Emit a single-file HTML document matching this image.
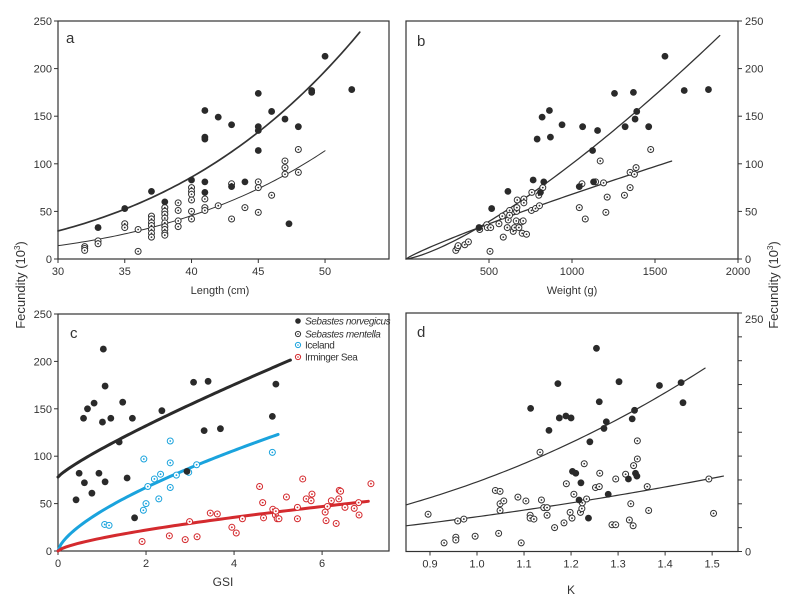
<!DOCTYPE html>
<html><head><meta charset="utf-8"><style>
html,body{margin:0;padding:0;background:#fff;}
svg{display:block;font-family:"Liberation Sans",Arial,sans-serif;}
.t{font-size:11px;fill:#333;}
</style></head><body>
<svg id="fig" width="796" height="599" viewBox="0 0 796 599" xmlns="http://www.w3.org/2000/svg">
<text class="t" style="font-size:13px" transform="translate(25,285) rotate(-90)" text-anchor="middle">Fecundity (10<tspan dy="-5" style="font-size:8px">3</tspan><tspan dy="5">)</tspan></text>
<text class="t" style="font-size:13px" transform="translate(778,285) rotate(-90)" text-anchor="middle">Fecundity (10<tspan dy="-5" style="font-size:8px">3</tspan><tspan dy="5">)</tspan></text>
<text class="t" x="220" y="294" text-anchor="middle">Length (cm)</text>
<text class="t" x="572" y="294" text-anchor="middle">Weight (g)</text>
<text class="t" style="font-size:12px" x="223" y="586" text-anchor="middle">GSI</text>
<text class="t" style="font-size:12px" x="571" y="594" text-anchor="middle">K</text>
</svg>
<script>
// ---------- data ----------
const aNorvX=[33,35,37,38,40,41,41,41,41,41,42,43,43,44,45,45,45,45,46,47,47.3,48,49,49,50,52];
const aNorvY=[33,53,71,60,83,156,128,126,81,70,149,141,76,81,174,139,135,114,155,147,37,139,177,175,213,178];
const aMentX=[32,32,32,33,33,35,35,36,36,37,37,37,37,37,37,37,38,38,38,38,38,38,38,38,38,39,39,39,39,40,40,40,40,40,40,41,41,41,42,43,43,44,45,45,45,46,47,47,47,48,48];
const aMentY=[13,11,9,19,16,37,33,31,8,45,42,38,35,31,27,23,54,50,47,43,38,34,31,27,25,59,51,40,34,75,71,68,62,50,42,63,54,51,56,79,42,54,81,75,49,67,103,96,89,115,91];
const bNorvX=[440,516,614,766,790,810,820,830,864,870,940,1044,1064,1124,1130,1154,1256,1320,1370,1380,1390,1462,1560,1676,1822];
const bNorvY=[33,53,71,83,126,70,149,81,156,128,141,76,139,114,81,135,174,139,175,147,155,139,213,177,178];
const bMentX=[300,310,314,354,376,444,486,490,510,506,560,580,586,610,616,624,624,646,654,664,666,668,670,680,696,706,700,726,710,710,756,758,780,800,804,824,1044,1060,1080,1142,1190,1170,1204,1212,1316,1350,1350,1376,1386,1474];
const bMentY=[9,12,14,15,18,31,36,33,33,8,37,45,23,33,41,51,46,29,33,40,50,54,62,33,39,40,27,26,63,59,51,70,53,67,56,75,54,79,42,81,80,103,49,65,67,91,75,89,96,115];
const cNorvX=[0.41,0.48,0.58,0.6,0.67,0.77,0.82,0.93,1.03,1.01,1.07,1.07,1.2,1.39,1.47,1.57,1.69,1.74,2.36,2.93,3.08,3.32,3.41,3.69,4.87,4.95];
const cNorvY=[54,82,140,72,150,61,156,82,213,136,174,73,140,115,157,77,140,35,148,84,178,127,179,129,142,176];
const cIceX=[1.06,1.16,1.94,2.0,1.95,2.04,2.19,2.29,2.33,2.55,2.55,2.55,2.69,2.97,3.15,4.87];
const cIceY=[28,27,43,50,97,68,76,55,81,116,93,67,80,83,91,104];
const cIrmX=[1.91,2.53,2.89,2.99,3.16,3.46,3.62,3.95,4.05,4.19,4.58,4.65,4.67,4.88,4.94,4.95,4.98,5.02,5.19,5.44,5.44,5.56,5.64,5.75,5.77,6.07,6.09,6.12,6.21,6.32,6.38,6.39,6.42,6.52,6.73,6.83,6.84,7.11];
const cIrmY=[10,16,12,31,15,40,39,25,19,34,68,51,35,44,38,42,34,34,57,46,34,76,55,53,60,41,32,47,53,29,55,64,63,46,45,51,38,71];
const dNorvX=[1.114,1.153,1.172,1.175,1.189,1.2,1.203,1.21,1.217,1.221,1.237,1.24,1.254,1.26,1.27,1.275,1.279,1.302,1.322,1.33,1.335,1.337,1.34,1.388,1.434,1.438];
const dNorvY=[150,127,176,140,142,140,84,82,54,72,35,115,213,157,129,136,60,178,76,139,148,82,79,174,177,156];
const dMentX=[0.896,0.93,0.955,0.955,0.959,0.972,0.996,1.039,1.049,1.046,1.049,1.049,1.057,1.087,1.094,1.104,1.113,1.113,1.121,1.134,1.137,1.142,1.149,1.149,1.165,1.185,1.19,1.198,1.202,1.206,1.22,1.223,1.224,1.233,1.228,1.252,1.26,1.261,1.287,1.295,1.295,1.316,1.324,1.327,1.332,1.333,1.341,1.341,1.362,1.365,1.493,1.503];
const dMentY=[39,9,15,12,32,34,16,64,63,19,50,43,53,57,9,53,38,35,34,104,54,46,46,38,25,30,71,41,35,60,41,45,51,55,92,67,68,82,28,28,76,81,33,50,27,90,97,116,68,43,76,40];
// fitted curves: [a, xref, exponent, offset, xStart, xEnd]  y = offset + a*(x/xref)^exponent
const aNorvFit=[29.5,30,3.72,0,30,52.6];
const aMentFit=[14,30,4.1,0,30,50];
const bNorvFit=[100,1000,1.34,0,0,1890];
const bMentFit=[68,1000,0.88,0,0,1600];
const cNorvFit=[30,1,0.85,78,0,5.28];
const cIceFit=[42.3,1,0.663,0,0,5.0];
const cIrmFit=[13.7,1,0.687,0,0,7.05];
const dNorvFit=[49,0.85,2.45,0,0.849,1.485];
const dMentFit=[27,0.85,1.84,0,0.849,1.524];
const yTicks=[0,50,100,150,200,250];
const aXTicks=[30,35,40,45,50];
const bXTicks=[500,1000,1500,2000];
const cXTicks=[0,2,4,6];
const dXTicks=[0.9,1.0,1.1,1.2,1.3,1.4,1.5];
const dXTickLabels=["0.9","1.0","1.1","1.2","1.3","1.4","1.5"];

// ---------- drawing ----------
const NS="http://www.w3.org/2000/svg";
const svg=document.getElementById('fig');
function mk(tag,attrs,parent){const e=document.createElementNS(NS,tag);for(const k in attrs)e.setAttribute(k,attrs[k]);(parent||svg).appendChild(e);return e;}
function panel(p){
  const g=mk('g',{});
  
  
  const sx=v=>p.x0+(v-p.xd[0])/(p.xd[1]-p.xd[0])*(p.x1-p.x0);
  const sy=v=>p.yb-(v/250)*(p.yb-p.yt);
  p.sx=sx;p.sy=sy;p.g=g;
  const fr=mk('rect',{x:p.x0,y:p.yt,width:p.x1-p.x0,height:p.yb-p.yt,fill:'none',stroke:'#333','stroke-width':1.2},g);
  
  
  p.xt.forEach((v,i)=>{const x=sx(v);
    mk('line',{x1:x,x2:x,y1:p.yb,y2:p.yb+4,stroke:'#333','stroke-width':1},g);
    const t=mk('text',{x:x,y:p.yb+16,'text-anchor':'middle',class:'t'},g);t.textContent=p.xl?p.xl[i]:String(v);
    
    });
  const right=p.right;const ax=right?p.x1:p.x0;const d=right?4:-4;
  const tickVals=p.minor?[0,25,50,75,100,125,150,175,200,225,250]:yTicks;
  tickVals.forEach(v=>{const y=sy(v);mk('line',{x1:ax,x2:ax+d,y1:y,y2:y,stroke:'#333','stroke-width':1},g);});
  yTicks.forEach(v=>{ if(p.ylab && !p.ylab.includes(v)) return;
    let y=sy(v); if(p.id==='d'&&v===250) y+=6;
    const t=mk('text',{x:right?ax+7:ax-6,y:y+4,'text-anchor':right?'start':'end',class:'t'},g);t.textContent=String(v);
    
    });
  const L=mk('text',{x:p.lx,y:p.ly,class:'t',style:'font-size:15px'},g);L.textContent=p.id;
  
  
  return p;
}
function curve(p,f,color,w,name){
  let d='';const n=80;
  for(let i=0;i<=n;i++){const x=f[4]+(f[5]-f[4])*i/n;const y=f[3]+f[0]*Math.pow(Math.max(x,0)/f[1],f[2]);d+=(i?'L':'M')+p.sx(x).toFixed(2)+','+p.sy(y).toFixed(2);}
  const e=mk('path',{d:d,fill:'none',stroke:color,'stroke-width':w,'stroke-linecap':'round'},p.g);
  
  
}
function filled(p,xs,ys,name){xs.forEach((x,i)=>{const c=mk('circle',{cx:p.sx(x),cy:p.sy(ys[i]),r:3.4,fill:'#2a2a2a'},p.g);
  
  });}
function open(p,xs,ys,color,name){xs.forEach((x,i)=>{const g=mk('g',{},p.g);
  
  
  mk('circle',{cx:p.sx(x),cy:p.sy(ys[i]),r:3,fill:'#fff',stroke:color,'stroke-width':1},g);
  mk('circle',{cx:p.sx(x),cy:p.sy(ys[i]),r:0.9,fill:color},g);});}

const A=panel({id:'a',x0:58,x1:389,yt:21,yb:259,xd:[30,54.79],xt:aXTicks,lx:66,ly:43});
curve(A,aNorvFit,'#333',1.7,'fit-norvegicus');curve(A,aMentFit,'#333',1,'fit-mentella');
open(A,aMentX,aMentY,'#333','point-mentella');filled(A,aNorvX,aNorvY,'point-norvegicus');

const B=panel({id:'b',x0:406,x1:738,yt:21,yb:259,xd:[0,2000],xt:bXTicks,right:true,lx:417,ly:46});
curve(B,bNorvFit,'#333',1.3,'fit-norvegicus');curve(B,bMentFit,'#333',1.3,'fit-mentella');
open(B,bMentX,bMentY,'#333','point-mentella');filled(B,bNorvX,bNorvY,'point-norvegicus');

const C=panel({id:'c',x0:58,x1:389,yt:314,yb:551,xd:[0,7.52],xt:cXTicks,lx:70,ly:338});
curve(C,cNorvFit,'#2a2a2a',3,'fit-norvegicus');curve(C,cIceFit,'#1aa3dd',3,'fit-iceland');curve(C,cIrmFit,'#d42a2e',3,'fit-irminger');
open(C,cIceX,cIceY,'#1aa3dd','point-iceland');open(C,cIrmX,cIrmY,'#d42a2e','point-irminger');filled(C,cNorvX,cNorvY,'point-norvegicus');

const D=panel({id:'d',x0:406,x1:738,yt:313,yb:551.5,xd:[0.849,1.555],xt:dXTicks,xl:dXTickLabels,right:true,minor:true,ylab:[0,250],lx:417,ly:337});
curve(D,dNorvFit,'#333',1.2,'fit-norvegicus');curve(D,dMentFit,'#333',1.2,'fit-mentella');
open(D,dMentX,dMentY,'#333','point-mentella');filled(D,dNorvX,dNorvY,'point-norvegicus');

const leg=mk('g',{});


const legLabels=['Sebastes norvegicus','Sebastes mentella','Iceland','Irminger Sea'];
const legY=[321,334,345,357];
legLabels.forEach((s,i)=>{const y=legY[i];const ge=mk('g',{},leg);
  
  
  if(i===0) mk('circle',{cx:298,cy:y,r:2.8,fill:'#2a2a2a'},ge);
  else {const col=i===1?'#333':(i===2?'#1aa3dd':'#d42a2e');mk('circle',{cx:298,cy:y,r:2.6,fill:'#fff',stroke:col,'stroke-width':1},ge);mk('circle',{cx:298,cy:y,r:0.8,fill:col},ge);}
  const t=mk('text',{x:305,y:y+3.5,class:'t',style:'font-size:10px;letter-spacing:-0.4px;'+(i<2?'font-style:italic':'')},ge);t.textContent=s;});
</script>
</body></html>
